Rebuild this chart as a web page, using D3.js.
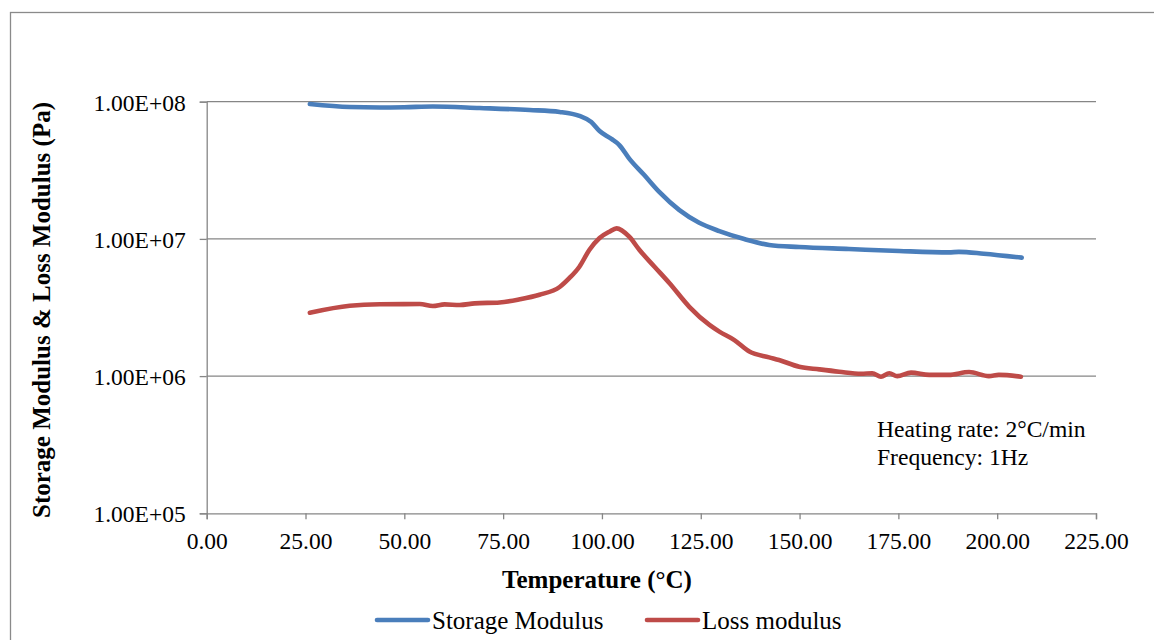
<!DOCTYPE html>
<html lang="en">
<head>
  <meta charset="UTF-8">
  <title>Storage and Loss Modulus</title>
  <script src="https://d3js.org/d3.v7.min.js"></script>
  <style>
    body { margin: 0; background: #fff; }
    svg { display: block; font-family: "Liberation Serif", "Times New Roman", serif; }
    .tick text { font-family: "Liberation Serif", "Times New Roman", serif; font-size: 23.5px; fill: #000; }
    .axis path, .axis line { stroke: #868686; stroke-width: 1.3px; }
    .grid { stroke: #868686; stroke-width: 1.3px; }
    .title { font-size: 25px; font-weight: bold; text-anchor: middle; }
    .note { font-size: 23.6px; }
    .legend { font-size: 25px; }
  </style>
</head>
<body>
  <svg width="1154" height="640"></svg>
  <script>
    // storage modulus (Pa) vs temperature (°C)
    const storageTemp = [26.1, 36.2, 43.8, 50.0, 57.2, 69.0, 81.7, 89.3, 94.3, 97.3, 99.4, 102.4, 104.4,
      106.9, 110.7, 114.5, 119.6, 124.6, 129.7, 136.0, 142.3, 149.9, 162.5, 175.2, 187.8, 190.3, 196.6, 206.2];
    const storageVal = [9.62e7, 9.15e7, 9.08e7, 9.12e7, 9.23e7, 9.0e7, 8.7e7, 8.42e7, 7.87e7, 7.11e7, 6.11e7, 5.35e7, 4.83e7,
      3.85e7, 2.92e7, 2.2e7, 1.62e7, 1.31e7, 1.14e7, 9.98e6, 9.03e6, 8.73e6, 8.44e6, 8.16e6, 7.98e6, 8.05e6, 7.8e6, 7.3e6];

    // loss modulus (Pa) vs temperature (°C)
    const lossTemp = [26.1, 36.2, 43.8, 53.9, 57.2, 60.2, 64.0, 67.8, 74.1, 79.2, 84.2, 89.3, 91.8, 94.3, 96.8,
      99.4, 101.9, 103.7, 106.9, 109.5, 113.3, 117.1, 122.1, 127.2, 129.7, 133.5, 137.3, 142.3, 144.8, 149.9,
      155.0, 160.0, 165.6, 168.4, 170.6, 172.7, 174.7, 178.2, 182.8, 187.8, 192.9, 197.9, 200.4, 206.0];
    const lossVal = [2.9e6, 3.26e6, 3.34e6, 3.35e6, 3.24e6, 3.33e6, 3.3e6, 3.39e6, 3.44e6, 3.63e6, 3.92e6, 4.46e6, 5.19e6, 6.27e6, 8.3e6,
      1.016e7, 1.128e7, 1.194e7, 1.038e7, 8.3e6, 6.27e6, 4.75e6, 3.2e6, 2.36e6, 2.11e6, 1.83e6, 1.51e6, 1.37e6, 1.31e6, 1.17e6,
      1.12e6, 1.077e6, 1.04e6, 1.047e6, 9.9e5, 1.05e6, 1.0e6, 1.06e6, 1.02e6, 1.02e6, 1.07e6, 1.0e6, 1.02e6, 9.9e5];

    const xTicks = [0, 25, 50, 75, 100, 125, 150, 175, 200, 225];
    const yTicks = [1e5, 1e6, 1e7, 1e8];
    const seriesNames = ["Storage Modulus", "Loss modulus"];
    const seriesColors = ["#4a7ebb", "#be4b48"];

    const svg = d3.select("svg");

    // outer chart border (right and bottom run off the page)
    svg.append("rect")
      .attr("x", 10.5).attr("y", 12.5)
      .attr("width", 1160).attr("height", 660)
      .attr("fill", "none")
      .attr("stroke", "#8a8a8a")
      .attr("stroke-width", 1.3);

    const plotLeft = 206.7, plotRight = 1096, plotTop = 101.7, plotBottom = 513.3;

    const x = d3.scaleLinear().domain([0, 225]).range([plotLeft, plotRight]);
    const y = d3.scaleLog().domain([1e5, 1e8]).range([plotBottom, plotTop]);

    // gridlines
    svg.selectAll(".grid")
      .data(yTicks.slice(1))
      .enter()
      .append("line")
      .attr("class", "grid")
      .attr("x1", plotLeft).attr("x2", plotRight)
      .attr("y1", d => y(d)).attr("y2", d => y(d));

    svg.append("g")
      .attr("class", "axis")
      .attr("transform", `translate(0,${plotBottom})`)
      .call(d3.axisBottom(x).tickValues(xTicks).tickFormat(d3.format(".2f")).tickSizeOuter(0).tickSize(6).tickPadding(13))
      .attr("font-family", null);

    const yAxis = svg.append("g")
      .attr("class", "axis")
      .attr("transform", `translate(${plotLeft},0)`)
      .call(d3.axisLeft(y).tickValues(yTicks)
        .tickFormat(d => "1.00E+0" + Math.round(Math.log10(d)))
        .tickSizeOuter(0).tickSize(7).tickPadding(14))
      .attr("font-family", null);
    yAxis.selectAll(".tick text").attr("dy", "0.36em");

    // series lines
    const line = d3.line()
      .x(d => x(d[0]))
      .y(d => y(d[1]))
      .curve(d3.curveMonotoneX);

    const series = [
      d3.zip(storageTemp, storageVal),
      d3.zip(lossTemp, lossVal)
    ];

    svg.selectAll(".series")
      .data(series)
      .enter()
      .append("path")
      .attr("class", "series")
      .attr("d", line)
      .attr("fill", "none")
      .attr("stroke", (d, i) => seriesColors[i])
      .attr("stroke-width", 4.6)
      .attr("stroke-linecap", "round")
      .attr("stroke-linejoin", "round");

    // axis titles
    svg.append("text")
      .attr("class", "title")
      .attr("x", 597).attr("y", 588)
      .text("Temperature (°C)");

    svg.append("text")
      .attr("class", "title")
      .attr("transform", "translate(50,310) rotate(-90)")
      .text("Storage Modulus & Loss Modulus (Pa)");

    // test conditions
    svg.append("text").attr("class", "note").attr("x", 877).attr("y", 437).text("Heating rate: 2°C/min");
    svg.append("text").attr("class", "note").attr("x", 877).attr("y", 465).text("Frequency: 1Hz");

    // legend
    const legendX = [377, 647];
    const legend = svg.selectAll(".legend-item")
      .data(seriesNames)
      .enter()
      .append("g")
      .attr("class", "legend-item")
      .attr("transform", (d, i) => `translate(${legendX[i]},620)`);

    legend.append("line")
      .attr("x1", 0).attr("x2", 51)
      .attr("stroke", (d, i) => seriesColors[i])
      .attr("stroke-width", 4.6)
      .attr("stroke-linecap", "round");

    legend.append("text")
      .attr("class", "legend")
      .attr("x", 55).attr("y", 8.5)
      .text(d => d);
  </script>
</body>
</html>
